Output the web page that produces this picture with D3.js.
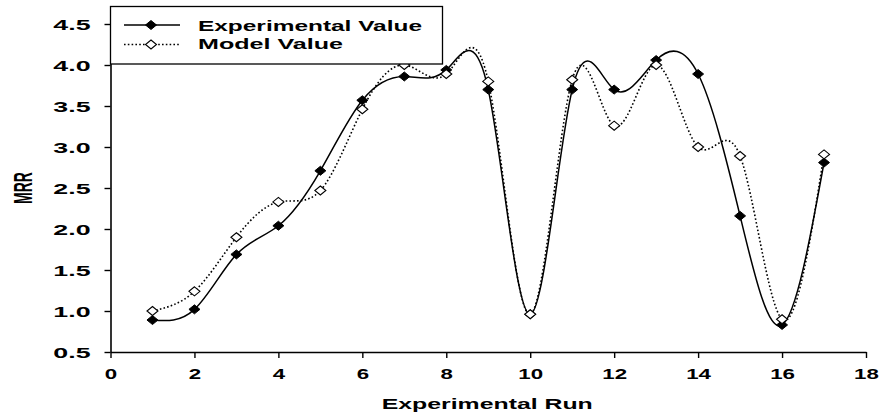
<!DOCTYPE html>
<html><head><meta charset="utf-8">
<script src="https://cdn.jsdelivr.net/npm/d3@7"></script>
<style>
body{margin:0;background:#fff;}
text{font-family:"Liberation Sans",Arial,sans-serif;font-weight:bold;fill:#000;}
</style></head>
<body><svg id="c" width="879" height="415"></svg>
<script>
const runs = [1,2,3,4,5,6,7,8,9,10,11,12,13,14,15,16,17];
const experimental = [0.89,1.02,1.69,2.04,2.71,3.57,3.86,3.94,3.70,0.96,3.70,3.70,4.06,3.89,2.16,0.83,2.81];
const model = [1.00,1.24,1.90,2.33,2.47,3.46,4.00,3.89,3.80,0.96,3.82,3.26,4.00,3.00,2.89,0.90,2.91];
const xTicks = [0,2,4,6,8,10,12,14,16,18];
const yTicks = [0.5,1.0,1.5,2.0,2.5,3.0,3.5,4.0,4.5];
const seriesNames = ["Experimental Value","Model Value"];
const xTitle = "Experimental Run";
const yTitle = "MRR";

const svg = d3.select("#c");
const x = d3.scaleLinear().domain([0,18]).range([110.5,866]);
const y = d3.scaleLinear().domain([0.5,4.5]).range([352,24]);

// axes
const xAxis = svg.append("g").attr("transform",`translate(0,${y(0.5)})`)
  .call(d3.axisBottom(x).tickValues(xTicks).tickSize(6).tickSizeOuter(0).tickFormat(d3.format("d")));
const yAxis = svg.append("g").attr("transform",`translate(${x(0)},0)`)
  .call(d3.axisLeft(y).tickValues(yTicks).tickSize(6).tickSizeOuter(0).tickFormat(d3.format(".1f")));
[xAxis,yAxis].forEach(g=>{
  g.select(".domain").attr("stroke","#000").attr("stroke-width",1.6);
  g.selectAll(".tick line").attr("stroke","#000").attr("stroke-width",1.4);
  g.selectAll(".tick text").attr("fill","#000").style("font-size","14px");
});
xAxis.selectAll(".tick text").attr("y",26.5).attr("dy",null)
  .each(function(){const s=this.textContent; d3.select(this).attr("textLength",12.4*s.length).attr("lengthAdjust","spacingAndGlyphs");});
yAxis.selectAll(".tick text").attr("x",-20).attr("dy","0.36em")
  .each(function(){const s=this.textContent; d3.select(this).attr("textLength",12.4*s.length).attr("lengthAdjust","spacingAndGlyphs");});

// titles
svg.append("text").attr("x",(x(0)+x(18))/2 - 1).attr("y",409).attr("text-anchor","middle")
  .style("font-size","15px").attr("textLength",211).attr("lengthAdjust","spacingAndGlyphs").text(xTitle);
svg.append("text").attr("transform","translate(31.5,188) scale(1.8,1) rotate(-90)")
  .attr("text-anchor","middle").style("font-size","14px").text(yTitle);

// lines
const line = d3.line().x((d,i)=>x(runs[i])).y(d=>y(d)).curve(d3.curveNatural);
const diamond = "M0,-4.5L5.5,0L0,4.5L-5.5,0Z";

svg.append("path").datum(experimental).attr("d",line).attr("fill","none")
  .attr("stroke","#000").attr("stroke-width",1.5);
svg.append("path").datum(model).attr("d",line).attr("fill","none")
  .attr("stroke","#000").attr("stroke-width",1.6).attr("stroke-dasharray","1.6,2.2");

svg.append("g").selectAll("path").data(experimental).join("path")
  .attr("d",diamond).attr("transform",(d,i)=>`translate(${x(runs[i])},${y(d)})`)
  .attr("fill","#000").attr("stroke","#000").attr("stroke-width",1);
svg.append("g").selectAll("path").data(model).join("path")
  .attr("d",diamond).attr("transform",(d,i)=>`translate(${x(runs[i])},${y(d)})`)
  .attr("fill","#fff").attr("stroke","#000").attr("stroke-width",1.1);

// legend
const lg = svg.append("g");
lg.append("rect").attr("x",110.5).attr("y",6.5).attr("width",332).attr("height",57.5)
  .attr("fill","#fff").attr("stroke","#000").attr("stroke-width",1.3);
const ly = [25,44.5];
lg.append("line").attr("x1",124).attr("x2",180).attr("y1",ly[0]).attr("y2",ly[0]).attr("stroke","#000").attr("stroke-width",1.5);
lg.append("path").attr("d",diamond).attr("transform",`translate(151,${ly[0]})`).attr("fill","#000").attr("stroke","#000");
lg.append("line").attr("x1",124).attr("x2",180).attr("y1",ly[1]).attr("y2",ly[1]).attr("stroke","#000").attr("stroke-width",1.6).attr("stroke-dasharray","1.6,2.2");
lg.append("path").attr("d",diamond).attr("transform",`translate(151,${ly[1]})`).attr("fill","#fff").attr("stroke","#000").attr("stroke-width",1.1);
lg.append("text").attr("x",198).attr("y",31).style("font-size","15px").attr("textLength",224).attr("lengthAdjust","spacingAndGlyphs").text(seriesNames[0]);
lg.append("text").attr("x",198).attr("y",48.5).style("font-size","15px").attr("textLength",145).attr("lengthAdjust","spacingAndGlyphs").text(seriesNames[1]);
</script></body></html>
